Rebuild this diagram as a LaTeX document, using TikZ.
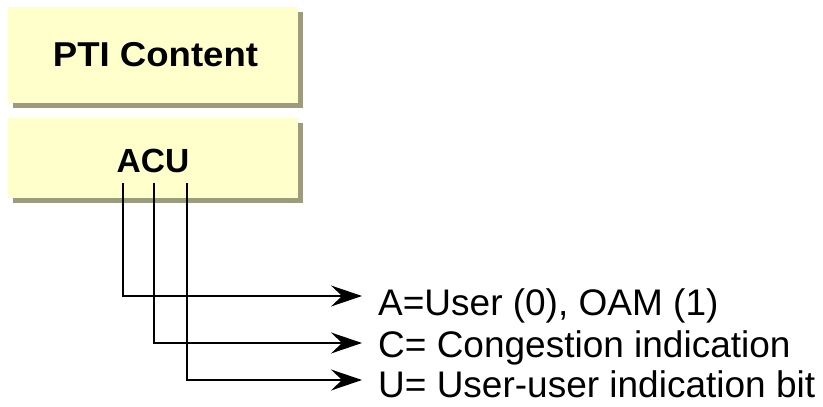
\documentclass[tikz,border=0pt]{standalone}
\usepackage{fontspec}
\setmainfont{Liberation Sans}
\usetikzlibrary{arrows.meta}
\definecolor{boxfill}{RGB}{255,255,204}
\definecolor{boxshadow}{RGB}{156,156,124}
\tikzset{
  conn/.style={line width=1.9pt, -{Stealth[length=31pt, width=21pt, inset=11pt]}},
  listtext/.style={anchor=base west, inner sep=0pt, font=\fontsize{37}{40}\selectfont},
  boxtext/.style={anchor=base, inner sep=0pt, font=\bfseries\fontsize{34.5}{38}\selectfont}
}
\begin{document}
\begin{tikzpicture}[x=1pt,y=-1pt]
\useasboundingbox (0,0) rectangle (823,407);
% shadows
\fill[boxshadow] (12.5,11.5) rectangle (302.5,107.5);
\fill[boxshadow] (12.5,122.5) rectangle (302.5,202.5);
% boxes
\fill[boxfill] (8,7) rectangle (298,103);
\fill[boxfill] (8,118) rectangle (298,198);
\node[boxtext] (pti) at (155.5,66) {\scalebox{1.06}[1]{PTI Content}};
\node[boxtext, font=\bfseries\fontsize{33.5}{36}\selectfont] (acu) at (153,172) {ACU};
% connector start points
\coordinate (a0) at (123,183);
\coordinate (c0) at (154,183);
\coordinate (u0) at (187,183);
\node[listtext] (ta) at (378,315) {A=User (0), OAM (1)};
\node[listtext] (tc) at (378,357) {C= Congestion indication};
\node[listtext] (tu) at (378,397) {U= User-user indication bit};
\coordinate (aend) at (362,296);
\coordinate (cend) at (362,343);
\coordinate (uend) at (362,380);
\draw[conn] (a0) |- (aend);
\draw[conn] (c0) |- (cend);
\draw[conn] (u0) |- (uend);
\end{tikzpicture}
\end{document}
